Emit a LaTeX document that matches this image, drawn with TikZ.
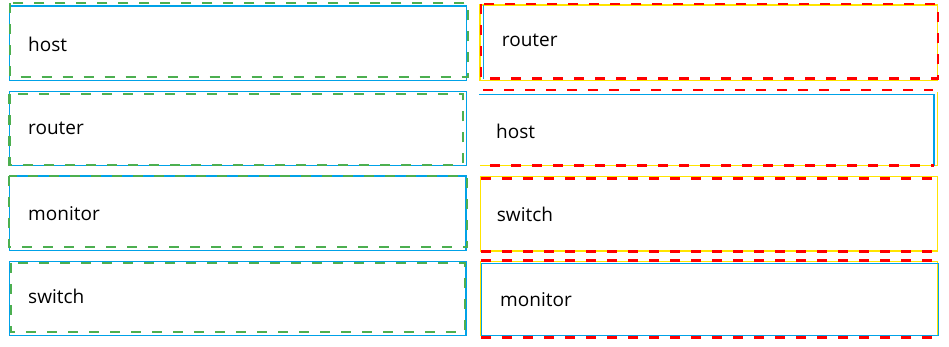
\documentclass[tikz,border=0pt]{standalone}
\usepackage{fontspec}
\setmainfont{Open Sans}
\usepackage{tikz}
\usetikzlibrary{positioning}
\definecolor{boxcyan}{RGB}{0,162,232}
\definecolor{boxgreen}{RGB}{76,175,80}
\definecolor{boxyellow}{RGB}{255,228,0}
\tikzset{cyanline/.style = {draw=boxcyan, line width=1.1pt},
         yellowline/.style = {draw=boxyellow, line width=1.3pt},
         greendash/.style = {draw=boxgreen, line width=2.3pt,
                             dash pattern=on 10pt off 11pt},
         reddash/.style = {draw=red, line width=2.6pt,
                           dash pattern=on 10pt off 11pt},
         lbl/.style = {anchor=base west, inner sep=0pt,
                       font=\fontsize{19pt}{22pt}\selectfont}}

\begin{document}
\begin{tikzpicture}[x=1pt, y=-1pt]
    \useasboundingbox (0, 0) rectangle (949, 347);
    % left column
    \draw [cyanline] (9.5, 6) rectangle (466.5, 80.7);
    \draw [greendash] (10, 3.3) rectangle (468.3, 76.7);
    \node [lbl] (lhost) at (28, 51.7) {host};
    \draw [cyanline] (9.5, 91.7) rectangle (466.5, 165.7);
    \draw [greendash] (9.5, 94.3) rectangle (462.7, 164.7);
    \node [lbl] (lrouter) at (28, 134.3) {router};
    \draw [cyanline] (9.3, 176) rectangle (466, 250.7);
    \draw [greendash] (9, 176) rectangle (467, 247);
    \node [lbl] (lmonitor) at (28, 221) {monitor};
    \draw [cyanline] (9.5, 261.7) rectangle (466, 335.7);
    \draw [greendash] (10.7, 263) rectangle (465, 331.7);
    \node [lbl] (lswitch) at (28, 303.3) {switch};
    % right column
    \draw [yellowline] (480, 5) rectangle (937.7, 80.7);
    \draw [cyanline] (483.3, 5) -- (483.3, 79);
    \draw [reddash] (481, 4) rectangle (938, 78.7);
    \node [lbl] (rrouter) at (501.7, 46.7) {router};
    \draw [yellowline] (480, 165.7) -- (937.7, 165.7) -- (937.7, 91.7);
    \draw [cyanline] (479.3, 94.7) -- (934, 94.7) -- (934, 165.7);
    \draw [reddash] (483, 90) -- (933, 90);
    \draw [reddash] (490, 165.7) -- (934, 165.7);
    \node [lbl] (rhost) at (496, 139) {host};
    \draw [yellowline] (480.7, 176.7) rectangle (937.7, 251);
    \draw [reddash] (481, 178.3) -- (934, 178.3);
    \draw [reddash] (481, 251.7) -- (934, 251.7);
    \node [lbl] (rswitch) at (496.7, 221.7) {switch};
    \draw [yellowline] (480.7, 261.7) rectangle (937.7, 335.7);
    \draw [cyanline] (481.7, 263.7) rectangle (938.3, 335.7);
    \draw [reddash] (481, 260.7) -- (933, 260.7);
    \draw [reddash] (481, 337.3) -- (933, 337.3);
    \node [lbl] (rmonitor) at (500, 306.7) {monitor};
  \end{tikzpicture}
\end{document}
